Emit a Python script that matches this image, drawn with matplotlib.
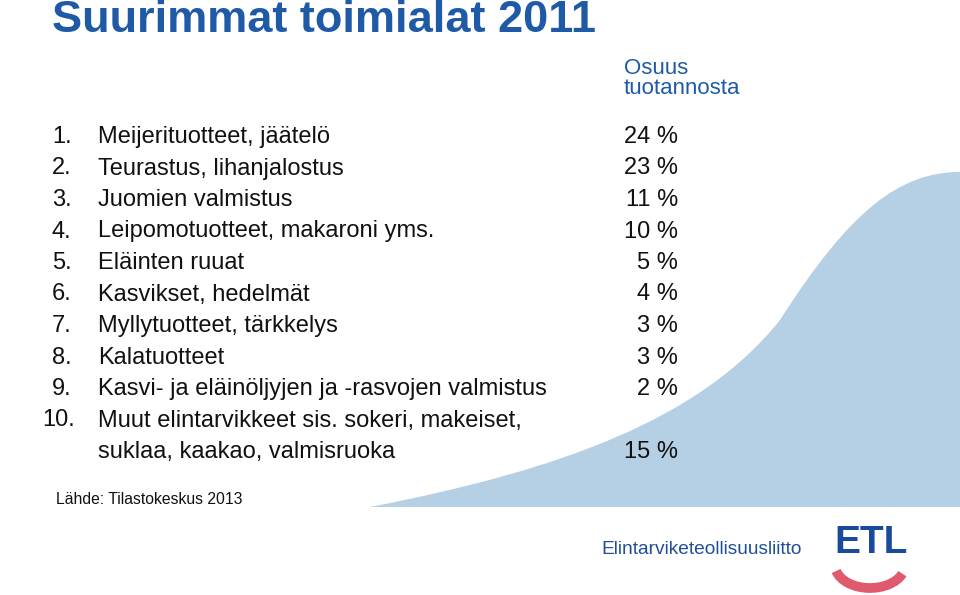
import matplotlib
matplotlib.use("Agg")
import matplotlib.pyplot as plt
import numpy as np
from matplotlib.path import Path
from matplotlib.patches import PathPatch, Arc

numbers = ["1.", "2.", "3.", "4.", "5.", "6.", "7.", "8.", "9.", "10."]
categories = ["Meijerituotteet, jäätelö", "Teurastus, lihanjalostus", "Juomien valmistus",
              "Leipomotuotteet, makaroni yms.", "Eläinten ruuat", "Kasvikset, hedelmät",
              "Myllytuotteet, tärkkelys", "Kalatuotteet",
              "Kasvi- ja eläinöljyjen ja -rasvojen valmistus",
              "Muut elintarvikkeet sis. sokeri, makeiset,\nsuklaa, kaakao, valmisruoka"]
shares = [24, 23, 11, 10, 5, 4, 3, 3, 2, 15]

fig = plt.figure(figsize=(9.6, 5.95), dpi=100)
ax = fig.add_axes([0, 0, 1, 1])
ax.set_xlim(0, 960); ax.set_ylim(595, 0); ax.axis("off")
FONT = "Liberation Sans"
FS = 17

verts = [(370, 507), (560, 470), (700, 420), (780, 320), (850, 210), (900, 172), (960, 172),
         (960, 507), (370, 507)]
codes = [Path.MOVETO, Path.CURVE4, Path.CURVE4, Path.CURVE4, Path.CURVE4, Path.CURVE4, Path.CURVE4,
         Path.LINETO, Path.CLOSEPOLY]
ax.add_patch(PathPatch(Path(verts, codes), facecolor="#b5cfe5", edgecolor="none"))

ax.text(52, 21, "Suurimmat toimialat 2011", fontsize=32.5, fontweight="bold", color="#1f5aa6",
        family=FONT, va="center")
ax.text(624, 68, "Osuus", fontsize=16, color="#1f5aa6", family=FONT, va="center")
ax.text(624, 89, "tuotannosta", fontsize=16, color="#1f5aa6", family=FONT, va="center")

y0, dy = 137, 31.5
for i, (n, c, s) in enumerate(zip(numbers, categories, shares)):
    y = y0 + i * dy
    ax.text(52 if len(n) < 3 else 42, y, n, fontsize=FS, family=FONT, va="center", color="#111")
    lines = c.split("\n")
    for j, ln in enumerate(lines):
        ax.text(98, y + j * dy, ln, fontsize=FS, family=FONT, va="center", color="#111")
    ys = y + (len(lines) - 1) * dy
    ax.text(678, ys, f"{s} %", fontsize=FS, family=FONT, ha="right", va="center", color="#111")

ax.text(56, 500, "Lähde: Tilastokeskus 2013", fontsize=11.3, family=FONT, va="center", color="#111")
ax.text(601, 549, "Elintarviketeollisuusliitto", fontsize=13.8, family=FONT, va="center", color="#1f4e9a")
ax.text(834, 543, "ETL", fontsize=28, fontweight="bold", family=FONT, va="center", color="#1a4a9c")
ax.add_patch(Arc((870, 565), 70, 46, theta1=15, theta2=170, color="#e05a6e", lw=7))

fig.savefig("out.png", dpi=100)
